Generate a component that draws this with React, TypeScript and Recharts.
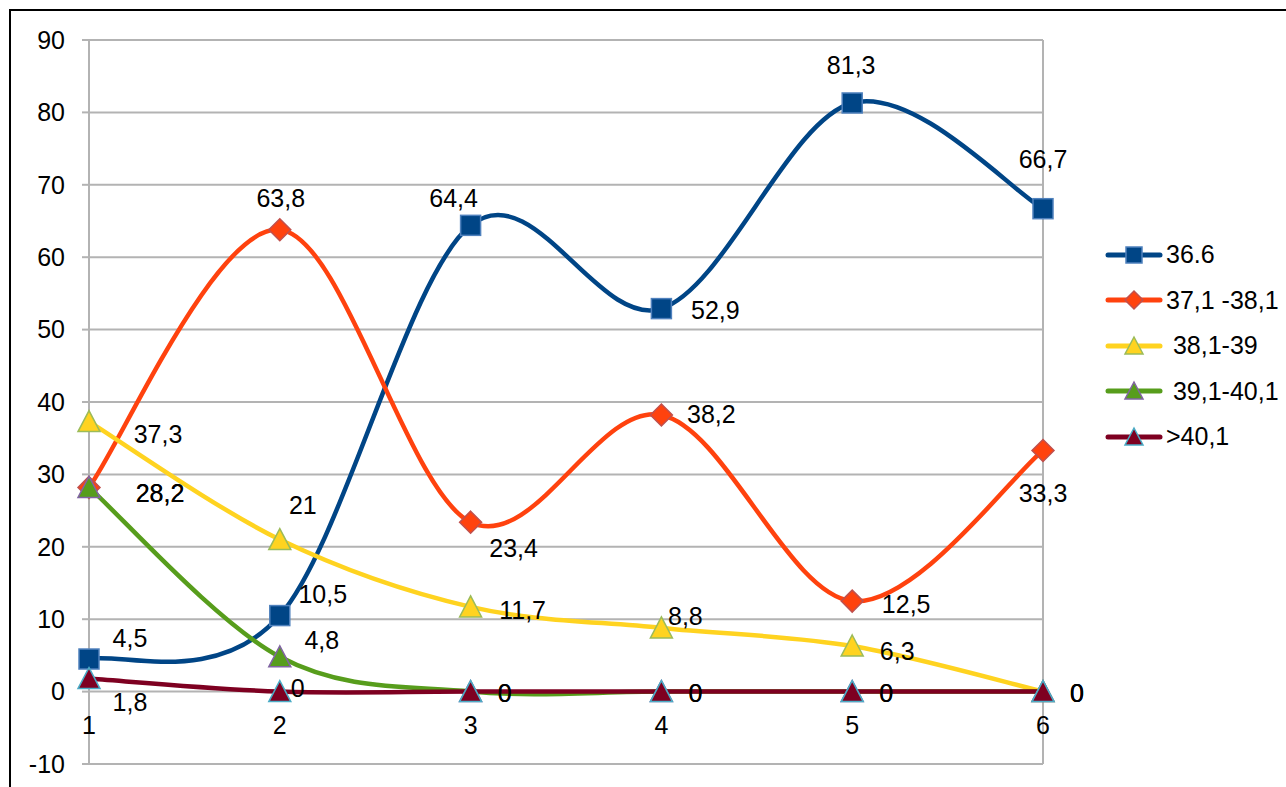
import React from 'react';
import { LineChart, Line, XAxis, YAxis, CartesianGrid, ReferenceLine, LabelList } from 'recharts';

const categories = [1, 2, 3, 4, 5, 6];
const s366 = [4.5, 10.5, 64.4, 52.9, 81.3, 66.7];
const s371 = [28.2, 63.8, 23.4, 38.2, 12.5, 33.3];
const s381 = [37.3, 21, 11.7, 8.8, 6.3, 0];
const s391 = [28.2, 4.8, 0, 0, 0, 0];
const s401 = [1.8, 0, 0, 0, 0, 0];
const yTicks = [-10, 0, 10, 20, 30, 40, 50, 60, 70, 80, 90];

const seriesNames = ['36.6', '37,1 -38,1', ' 38,1-39', ' 39,1-40,1', '>40,1'];

// label placement (offsets from the point, px)
const lab366 = [[41, -21], [43, -22], [-17, -27], [54, 1], [-1, -38], [0, -50]];
const lab371 = [[71, 6], [1, -32], [43, 26], [50, -1], [54, 3], [0, 42]];
const lab381 = [[69, 12], [23, -35], [52, 3], [24, -12], [45, 5], [34, 1]];
const lab391 = [[71, 6], [42, -17], [34, 1], [34, 1], [34, 1], [34, 1]];
const lab401 = [[41, 23], [18, -4], [34, 1], [34, 1], [34, 1], [34, 1]];

const data = categories.map((c, i) => ({
  x: c,
  a: s366[i],
  b: s371[i],
  c: s381[i],
  d: s391[i],
  e: s401[i],
}));

type Style = { line: string; fill: string; stroke: string; shape: 'square' | 'diamond' | 'triangle' };
const styles: Style[] = [
  { line: '#004586', fill: '#004586', stroke: '#4f81bd', shape: 'square' },
  { line: '#ff420e', fill: '#ff420e', stroke: '#c0504d', shape: 'diamond' },
  { line: '#ffd320', fill: '#ffd320', stroke: '#9bbb59', shape: 'triangle' },
  { line: '#579d1c', fill: '#579d1c', stroke: '#8064a2', shape: 'triangle' },
  { line: '#7e0021', fill: '#7e0021', stroke: '#4bacc6', shape: 'triangle' },
];

const FONT = '"Liberation Sans", Arial, sans-serif';
const FS = 25;

// Smoothed line (uniform Catmull-Rom / cardinal with tension 0), as a d3-style curve factory
class SmoothCurve {
  _context: any;
  _line: number = NaN;
  _x: number[] | null = null;
  _y: number[] | null = null;
  constructor(context: any) {
    this._context = context;
  }
  areaStart() {
    this._line = 0;
  }
  areaEnd() {
    this._line = NaN;
  }
  lineStart() {
    this._x = [];
    this._y = [];
  }
  point(x: number, y: number) {
    this._x!.push(+x);
    this._y!.push(+y);
  }
  lineEnd() {
    const x = this._x!, y = this._y!, n = x.length;
    const ctx = this._context;
    if (n) {
      this._line ? ctx.lineTo(x[0], y[0]) : ctx.moveTo(x[0], y[0]);
      for (let i = 0; i < n - 1; i++) {
        const p = Math.max(i - 1, 0);
        const q = Math.min(i + 2, n - 1);
        ctx.bezierCurveTo(
          x[i] + (x[i + 1] - x[p]) / 6,
          y[i] + (y[i + 1] - y[p]) / 6,
          x[i + 1] - (x[q] - x[i]) / 6,
          y[i + 1] - (y[q] - y[i]) / 6,
          x[i + 1],
          y[i + 1]
        );
      }
    }
    if (this._line || (this._line !== 0 && n === 1)) ctx.closePath();
    this._line = 1 - this._line;
    this._x = this._y = null;
  }
}
const smoothCurve: any = (context: any) => new SmoothCurve(context);

function Marker({ cx, cy, st, r }: { cx: number; cy: number; st: Style; r: number }) {
  if (st.shape === 'square') {
    return <rect x={cx - r} y={cy - r} width={2 * r} height={2 * r} fill={st.fill} stroke={st.stroke} strokeWidth={1.5} />;
  }
  if (st.shape === 'diamond') {
    const h = r + 1;
    return (
      <polygon
        points={`${cx},${cy - h} ${cx + h},${cy} ${cx},${cy + h} ${cx - h},${cy}`}
        fill={st.fill}
        stroke={st.stroke}
        strokeWidth={1.5}
      />
    );
  }
  const h = r + 1;
  return (
    <polygon
      points={`${cx},${cy - h} ${cx + h},${cy + h - 1} ${cx - h},${cy + h - 1}`}
      fill={st.fill}
      stroke={st.stroke}
      strokeWidth={1.5}
    />
  );
}

const makeDot = (st: Style) => (props: any) => {
  const { cx, cy, index } = props;
  if (cx == null || cy == null) return <g key={index} />;
  return (
    <g key={index}>
      <Marker cx={cx} cy={cy} st={st} r={10} />
    </g>
  );
};

const fmt = (v: number) => String(v).replace('.', ',');

const makeLabel = (offs: number[][]) => (props: any) => {
  const { x, y, value, index } = props;
  const o = offs[index] || [0, 0];
  return (
    <text
      x={x + o[0]}
      y={y + o[1]}
      textAnchor="middle"
      dominantBaseline="central"
      fontFamily={FONT}
      fontSize={FS}
      fill="#000"
    >
      {fmt(value)}
    </text>
  );
};

const XTick = (props: any) => {
  const { x, y, payload } = props;
  return (
    <text x={x} y={y - 30} textAnchor="middle" fontFamily={FONT} fontSize={FS} fill="#000">
      {payload.value}
    </text>
  );
};

const keys = ['a', 'b', 'c', 'd', 'e'];
const labs = [lab366, lab371, lab381, lab391, lab401];

export default function App() {
  return (
    <div style={{ position: 'absolute', left: 0, top: 0, width: 1286, height: 787, overflow: 'hidden', background: '#fff' }}>
      <div
        style={{
          position: 'absolute',
          left: 9,
          top: 9,
          width: 1400,
          height: 900,
          border: '2px solid #000',
        }}
      />
      <div style={{ position: 'absolute', left: 0, top: 0 }}>
        <LineChart width={1286} height={787} data={data} margin={{ top: 40, right: 243, bottom: 22, left: 0 }}>
          <CartesianGrid horizontal vertical={false} stroke="#b3b3b3" strokeWidth={2} />
          <XAxis
            dataKey="x"
            type="number"
            domain={[1, 6]}
            ticks={categories}
            height={1}
            axisLine={false}
            tickLine={false}
            tickSize={0}
            tickMargin={0}
            tick={XTick}
            interval={0}
          />
          <YAxis
            domain={[-10, 90]}
            ticks={yTicks}
            width={89}
            axisLine={{ stroke: '#b3b3b3', strokeWidth: 2 }}
            tickLine={{ stroke: '#b3b3b3', strokeWidth: 2 }}
            tickSize={7}
            tickMargin={17}
            tick={{ fontFamily: FONT, fontSize: FS, fill: '#000' }}
            interval={0}
          />
          <ReferenceLine x={6} stroke="#b3b3b3" strokeWidth={2} />
          {styles.map((st, i) => (
            <Line
              key={keys[i]}
              dataKey={keys[i]}
              name={seriesNames[i]}
              type={smoothCurve}
              stroke={st.line}
              strokeWidth={4.5}
              strokeLinecap="round"
              dot={makeDot(st)}
              activeDot={false}
              isAnimationActive={false}
            >
              <LabelList dataKey={keys[i]} content={makeLabel(labs[i])} />
            </Line>
          ))}
        </LineChart>
      </div>
      <div style={{ position: 'absolute', left: 1104, top: 232, width: 182, fontFamily: FONT, fontSize: FS, color: '#000' }}>
        {styles.map((st, i) => (
          <div key={i} style={{ height: 45.5, display: 'flex', alignItems: 'center' }}>
            <svg width={60} height={24} style={{ display: 'block', flex: 'none' }}>
              <line x1={4} y1={12} x2={56} y2={12} stroke={st.line} strokeWidth={5} strokeLinecap="round" />
              <Marker cx={30} cy={12} st={st} r={8} />
            </svg>
            <span style={{ whiteSpace: 'pre', marginLeft: 2 }}>{seriesNames[i]}</span>
          </div>
        ))}
      </div>
    </div>
  );
}
